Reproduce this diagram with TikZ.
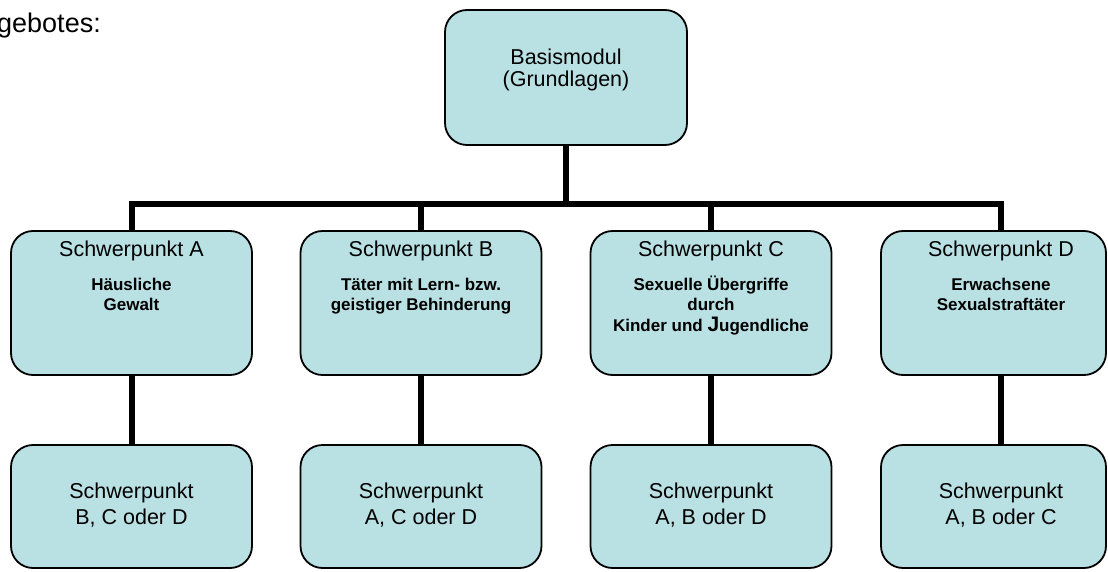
\documentclass[tikz,border=0pt]{standalone}
\usepackage{fontspec}
\setmainfont{Liberation Sans}
\definecolor{boxfill}{RGB}{185,224,227}
\newcommand\bstrut{\rule{0pt}{15pt}}
\newcommand\rstrut{\rule{0pt}{17pt}}
\tikzset{
  box/.style={draw=black, line width=1.8pt, fill=boxfill, rounded corners=22pt,
    minimum width=241pt, minimum height=144pt, inner sep=0pt},
  lowbox/.style={box, minimum height=123pt},
  conn/.style={line width=6pt, line join=miter},
  hd/.style={font=\fontsize{21.5}{22}\selectfont, inner sep=0pt, anchor=base},
  sb/.style={font=\fontsize{17}{20}\selectfont\bfseries, align=center, inner sep=0pt, anchor=north},
  lowtxt/.style={font=\fontsize{21.5}{26}\selectfont, align=center, inner sep=0pt, anchor=north},
  basetxt/.style={font=\fontsize{21.5}{22}\selectfont, align=center, inner sep=0pt, anchor=north}
}
\begin{document}
\begin{tikzpicture}[x=1pt,y=-1pt]
\useasboundingbox (0,0) rectangle (1108,572);

% helper coordinates
\coordinate (barY) at (0,204);
\coordinate (Dx) at (1001,0);

% boxes
\node[box, minimum width=242pt, minimum height=135pt] (basis) at (566,77.5) {};
\node[box] (A) at (131.5,303) {};
\node[box] (B) at (421,303) {};
\node[box] (C) at (711,303) {};
\node[box, minimum width=225pt] (D) at (993.5,303) {};
\node[lowbox] (A2) at (131.5,506.5) {};
\node[lowbox] (B2) at (421,506.5) {};
\node[lowbox] (C2) at (711,506.5) {};
\node[lowbox, minimum width=225pt] (D2) at (993.5,506.5) {};

% connectors
\draw[conn] (basis.south) -- (basis.south |- barY);
\draw[conn] (A.north) -- (A.north |- barY) -- (Dx |- barY) -- (Dx |- D.north);
\draw[conn] (B.north) -- (B.north |- barY);
\draw[conn] (C.north) -- (C.north |- barY);
\draw[conn] (A.south) -- (A2.north);
\draw[conn] (B.south) -- (B2.north);
\draw[conn] (C.south) -- (C2.north);
\draw[conn] (Dx |- D.south) -- (Dx |- D2.north);

% texts
\node[font=\fontsize{27}{30}\selectfont, anchor=base west, inner sep=0pt] (intro) at (-3,33) {gebotes:};
\node[basetxt] (basist) at (566,64-17) {\rstrut Basismodul\\(Grundlagen)};

\node[hd] (At) at (131.5,256) {Schwerpunkt A};
\node[hd] (Bt) at (421,256) {Schwerpunkt B};
\node[hd] (Ct) at (711,256) {Schwerpunkt C};
\node[hd] (Dt) at (1001,256) {Schwerpunkt D};

\node[sb] (As) at (131.5,290-15) {\bstrut Häusliche\\Gewalt};
\node[sb] (Bs) at (421,290-15) {\bstrut Täter mit Lern- bzw.\\geistiger Behinderung};
\node[sb] (Cs) at (711,290-15) {\bstrut Sexuelle Übergriffe\\durch\\[1pt]Kinder und {\fontsize{21}{20}\selectfont J}ugendliche};
\node[sb] (Ds) at (1001,290-15) {\bstrut Erwachsene\\Sexualstraftäter};

\node[lowtxt] (A2t) at (131.5,498-17) {\rstrut Schwerpunkt\\B, C oder D};
\node[lowtxt] (B2t) at (421,498-17) {\rstrut Schwerpunkt\\A, C oder D};
\node[lowtxt] (C2t) at (711,498-17) {\rstrut Schwerpunkt\\A, B oder D};
\node[lowtxt] (D2t) at (1001,498-17) {\rstrut Schwerpunkt\\A, B oder C};
\end{tikzpicture}
\end{document}
